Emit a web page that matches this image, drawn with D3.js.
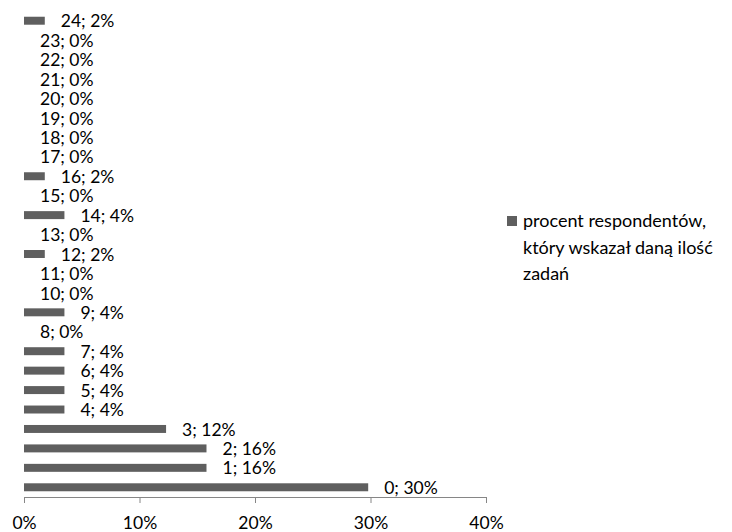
<!DOCTYPE html>
<html>
<head>
<meta charset="utf-8">
<script src="https://cdn.jsdelivr.net/npm/d3@7/dist/d3.min.js"></script>
<style>
  html, body { margin: 0; padding: 0; background: #fff; }
  svg { display: block; }
  text { font-family: Lato, "Open Sans", sans-serif; fill: #000; }
</style>
</head>
<body>
<svg id="chart" width="732" height="532"></svg>
<script>
// Number of tasks indicated (category) and share of respondents (%)
const categories = ["0","1","2","3","4","5","6","7","8","9","10","11","12",
                    "13","14","15","16","17","18","19","20","21","22","23","24"];
const values = [29.8, 15.8, 15.8, 12.3, 3.5, 3.5, 3.5, 3.5, 0, 3.5, 0, 0, 1.8,
                0, 3.5, 0, 1.8, 0, 0, 0, 0, 0, 0, 0, 1.8];
const tickValues = [0, 10, 20, 30, 40];
const tickLabels = ["0%", "10%", "20%", "30%", "40%"];
const seriesName = ["procent respondentów,", "który wskazał daną ilość", "zadań"];

const data = categories.map((c, i) => ({ cat: c, value: values[i] }));

const svg = d3.select("#chart");
const barColor = "#5f5f5f";
const axisColor = "#868686";
const fontSize = 17.5;

const x = d3.scaleLinear().domain([0, 40]).range([24, 486]);
const y = d3.scaleBand()
  .domain(categories)
  .range([497, 11])
  .paddingInner(0.59)
  .paddingOuter(0.295);

// bars
svg.append("g")
  .selectAll("rect")
  .data(data)
  .join("rect")
  .attr("x", x(0))
  .attr("y", d => y(d.cat))
  .attr("width", d => x(d.value) - x(0))
  .attr("height", y.bandwidth())
  .attr("fill", barColor);

// value labels: "category; value"
svg.append("g")
  .selectAll("text")
  .data(data)
  .join("text")
  .attr("x", d => x(d.value) + 16)
  .attr("y", d => y(d.cat) + y.bandwidth() / 2)
  .attr("dy", "0.38em")
  .attr("font-size", fontSize)
  .text(d => `${d.cat}; ${Math.round(d.value)}%`);

// value axis
const axis = d3.axisBottom(x)
  .tickValues(tickValues)
  .tickFormat((d, i) => tickLabels[i])
  .tickSize(6)
  .tickSizeOuter(0)
  .tickPadding(14);

const gAxis = svg.append("g")
  .attr("transform", "translate(0,497)")
  .call(axis);
gAxis.select(".domain").attr("stroke", axisColor);
gAxis.selectAll(".tick line").attr("stroke", axisColor);
gAxis.selectAll(".tick text")
  .attr("font-size", fontSize)
  .attr("font-family", "Lato, 'Open Sans', sans-serif")
  .attr("fill", "#000");

// legend
const legend = svg.append("g").attr("transform", "translate(507,216)");
legend.append("rect")
  .attr("width", 10)
  .attr("height", 10)
  .attr("fill", barColor);
legend.append("text")
  .attr("font-size", 18)
  .selectAll("tspan")
  .data(seriesName)
  .join("tspan")
  .attr("x", 16)
  .attr("y", (d, i) => 11 + i * 26.5)
  .text(d => d);
</script>
</body>
</html>
